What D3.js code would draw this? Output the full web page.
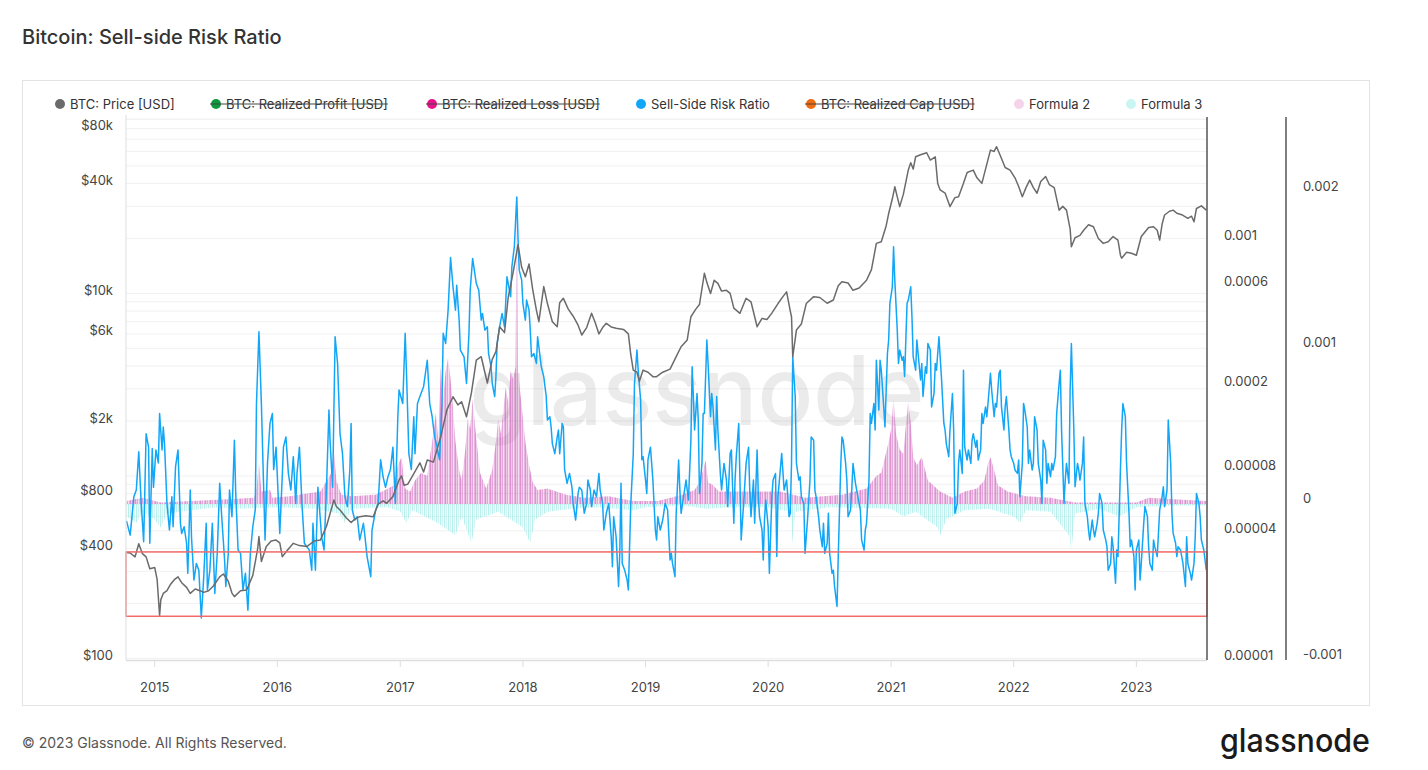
<!DOCTYPE html>
<meta charset="utf-8">
<style>
body{margin:0;background:#fff;}
text{font-family:Inter,'Noto Sans',sans-serif;}
</style>
<svg id="svg" width="1428" height="770"></svg>
<script src="https://d3js.org/d3.v7.min.js"></script>
<script>

// ---- data (time as decimal year) ----
var priceTicks = [100, 400, 800, 2000, 6000, 10000, 40000, 80000]
var ssrTicks = [0.00001, 0.00004, 0.00008, 0.0002, 0.0006, 0.001]
var formulaTicks = [-0.001, 0, 0.001, 0.002]
var years = [2015, 2016, 2017, 2018, 2019, 2020, 2021, 2022, 2023]
var riskBand = [1.58e-5, 3.2e-5]

var legendItems = [
  {name: 'BTC: Price [USD]', color: '#6b6b6b', off: false},
  {name: 'BTC: Realized Profit [USD]', color: '#0d9a3a', off: true},
  {name: 'BTC: Realized Loss [USD]', color: '#e8128a', off: true},
  {name: 'Sell-Side Risk Ratio', color: '#12a6f7', off: false},
  {name: 'BTC: Realized Cap [USD]', color: '#f26a0c', off: true},
  {name: 'Formula 2', color: '#f4d4ec', off: false},
  {name: 'Formula 3', color: '#c9f5f3', off: false}
]

// BTC price, USD
var price = [[2014.77,380],[2014.80,378],[2014.84,360],[2014.87,425],[2014.90,375],[2014.93,360],[2014.96,310],[2015.00,315],[2015.02,270],[2015.04,172],[2015.05,210],[2015.07,227],[2015.10,235],[2015.13,255],[2015.16,270],[2015.19,280],[2015.22,260],[2015.26,245],[2015.29,227],[2015.33,240],[2015.37,235],[2015.40,230],[2015.44,235],[2015.48,250],[2015.53,280],[2015.56,290],[2015.60,265],[2015.63,228],[2015.65,218],[2015.70,235],[2015.75,237],[2015.80,285],[2015.84,400],[2015.85,465],[2015.87,340],[2015.91,410],[2015.95,440],[2015.99,445],[2016.02,430],[2016.04,361],[2016.08,390],[2016.13,427],[2016.18,415],[2016.24,410],[2016.30,440],[2016.35,445],[2016.40,530],[2016.46,738],[2016.48,680],[2016.51,650],[2016.56,590],[2016.60,555],[2016.63,580],[2016.67,598],[2016.72,605],[2016.78,598],[2016.82,700],[2016.86,730],[2016.89,708],[2016.94,770],[2016.99,950],[2017.01,1000],[2017.03,890],[2017.06,900],[2017.10,1000],[2017.16,1180],[2017.19,1050],[2017.22,1222],[2017.27,1190],[2017.33,1640],[2017.38,2300],[2017.43,2715],[2017.47,2450],[2017.50,2550],[2017.54,2110],[2017.58,2850],[2017.62,4310],[2017.66,4500],[2017.71,3230],[2017.75,4350],[2017.78,4800],[2017.81,6570],[2017.85,6100],[2017.88,9500],[2017.92,13000],[2017.96,18500],[2017.99,13900],[2018.02,12350],[2018.05,14500],[2018.08,10500],[2018.11,8100],[2018.13,7000],[2018.17,10900],[2018.20,8800],[2018.24,7000],[2018.28,6570],[2018.30,8900],[2018.33,9400],[2018.37,8200],[2018.41,7500],[2018.45,6700],[2018.48,5920],[2018.52,6500],[2018.56,7780],[2018.59,6900],[2018.62,6000],[2018.65,6500],[2018.68,6860],[2018.72,6550],[2018.76,6450],[2018.82,6350],[2018.86,6000],[2018.88,4600],[2018.90,3800],[2018.93,3700],[2018.95,3300],[2018.98,3800],[2019.02,3700],[2019.06,3500],[2019.09,3500],[2019.14,3700],[2019.20,3850],[2019.25,4500],[2019.29,5100],[2019.34,5560],[2019.37,7450],[2019.41,8200],[2019.44,8700],[2019.48,12900],[2019.50,11500],[2019.53,10000],[2019.56,11800],[2019.59,11350],[2019.62,10300],[2019.66,10400],[2019.69,10000],[2019.72,8300],[2019.77,7780],[2019.82,9400],[2019.86,9000],[2019.91,6570],[2019.95,7300],[2019.99,7200],[2020.03,7800],[2020.08,8800],[2020.12,9600],[2020.15,10200],[2020.18,8000],[2020.19,7450],[2020.20,4500],[2020.23,6300],[2020.27,6800],[2020.31,8800],[2020.37,9600],[2020.42,9500],[2020.48,8830],[2020.53,9200],[2020.57,11000],[2020.60,11600],[2020.65,11400],[2020.69,10400],[2020.74,10700],[2020.80,11800],[2020.84,13500],[2020.88,18800],[2020.92,19200],[2020.96,23500],[2020.98,27400],[2021.01,33000],[2021.03,38400],[2021.07,29900],[2021.10,35000],[2021.14,47400],[2021.16,52000],[2021.18,48000],[2021.20,56100],[2021.24,57500],[2021.29,59000],[2021.32,53800],[2021.36,56000],[2021.38,40000],[2021.40,36900],[2021.44,35500],[2021.48,29900],[2021.52,33500],[2021.55,33900],[2021.59,40100],[2021.62,46000],[2021.67,47400],[2021.70,43000],[2021.74,40100],[2021.77,48000],[2021.81,61000],[2021.84,60000],[2021.86,63700],[2021.89,57000],[2021.93,49000],[2021.97,47400],[2022.01,43000],[2022.04,38500],[2022.07,33900],[2022.10,38000],[2022.13,41800],[2022.16,38000],[2022.19,35400],[2022.22,41000],[2022.26,43700],[2022.29,39500],[2022.33,38000],[2022.37,28600],[2022.40,30000],[2022.43,28600],[2022.46,22500],[2022.47,18000],[2022.50,20200],[2022.54,20800],[2022.57,22200],[2022.61,23800],[2022.65,23200],[2022.69,20000],[2022.73,18800],[2022.77,19200],[2022.81,20500],[2022.85,19600],[2022.87,16200],[2022.88,15600],[2022.92,16800],[2022.96,16600],[2023.00,16200],[2023.04,20500],[2023.06,21300],[2023.10,23000],[2023.14,23200],[2023.17,22200],[2023.19,19600],[2023.21,24000],[2023.23,26900],[2023.27,28200],[2023.30,28600],[2023.33,27500],[2023.37,27000],[2023.42,25800],[2023.45,26500],[2023.47,24700],[2023.49,29200],[2023.53,30200],[2023.57,28600]]

// sell-side risk ratio, in units of 1e-5
var ssrE5 = [[2014.77,4.5],[2014.80,3.85],[2014.83,5.86],[2014.85,6.31],[2014.87,9.6],[2014.89,5.45],[2014.91,3.58],[2014.93,11.7],[2014.95,10.1],[2014.96,3.52],[2014.98,9.96],[2014.99,6.5],[2015.01,9.8],[2015.03,8.5],[2015.04,14.6],[2015.06,9.8],[2015.07,12.6],[2015.08,10.5],[2015.10,5.45],[2015.12,4.07],[2015.14,5.86],[2015.15,4.22],[2015.17,8.15],[2015.19,9.8],[2015.21,4.38],[2015.22,3.92],[2015.24,4.22],[2015.26,3.52],[2015.27,2.53],[2015.29,6.31],[2015.30,3.78],[2015.32,2.35],[2015.34,2.82],[2015.36,2.62],[2015.38,1.55],[2015.40,2.44],[2015.42,4.38],[2015.43,2.11],[2015.45,2.62],[2015.47,4.38],[2015.49,2.03],[2015.51,3.15],[2015.53,6.79],[2015.55,4.38],[2015.57,2.93],[2015.58,2.19],[2015.60,3.15],[2015.61,6.31],[2015.63,4.71],[2015.65,10.9],[2015.66,6.31],[2015.68,3.27],[2015.70,3.15],[2015.72,2.11],[2015.74,2.53],[2015.76,1.69],[2015.78,3.15],[2015.80,4.22],[2015.82,5.07],[2015.83,16.3],[2015.85,35.8],[2015.87,16.3],[2015.90,3.65],[2015.92,8.5],[2015.94,13.1],[2015.96,14.6],[2015.97,7.9],[2015.99,10.1],[2016.02,3.92],[2016.04,7.3],[2016.05,10.1],[2016.07,11.3],[2016.09,7.57],[2016.11,6.31],[2016.13,9.1],[2016.15,5.45],[2016.16,7.57],[2016.18,10.1],[2016.20,5.45],[2016.22,3.52],[2016.24,3.39],[2016.26,3.27],[2016.28,2.62],[2016.29,4.38],[2016.31,2.62],[2016.33,6.5],[2016.34,5.45],[2016.36,3.78],[2016.38,3.27],[2016.40,6.5],[2016.42,15.2],[2016.43,10.5],[2016.45,6.5],[2016.47,33.9],[2016.49,25.3],[2016.51,11.7],[2016.53,9.4],[2016.55,5.86],[2016.57,5.26],[2016.59,7.9],[2016.60,13.1],[2016.61,5.07],[2016.63,4.54],[2016.65,4.71],[2016.67,3.65],[2016.70,4.38],[2016.71,3.92],[2016.73,3.04],[2016.76,2.44],[2016.77,4.07],[2016.80,5.07],[2016.82,5.45],[2016.84,8.8],[2016.86,7.3],[2016.88,6.5],[2016.90,7.3],[2016.92,7.9],[2016.94,10.1],[2016.96,5.45],[2016.98,14.1],[2016.99,18.9],
[2017.02,16.3],[2017.04,35.2],[2017.05,23.5],[2017.07,9.4],[2017.09,7.9],[2017.11,14.1],[2017.12,9.4],[2017.14,16.3],[2017.16,17.6],[2017.19,19.6],[2017.22,26.2],[2017.24,16.3],[2017.26,14.1],[2017.28,11.3],[2017.30,10.1],[2017.32,8.8],[2017.34,16.3],[2017.35,35.2],[2017.37,31.5],[2017.39,45.4],[2017.41,80.9],[2017.43,58.6],[2017.45,45.4],[2017.46,59.7],[2017.48,40.7],[2017.49,29.3],[2017.52,27.2],[2017.54,20.3],[2017.56,35.2],[2017.57,56.5],[2017.59,80.0],[2017.60,73.0],[2017.62,60.8],[2017.64,56.5],[2017.66,40.7],[2017.67,43.8],[2017.69,36.5],[2017.71,37.8],[2017.72,28.2],[2017.74,24.4],[2017.75,20.3],[2017.77,17.6],[2017.78,21.9],[2017.79,31.5],[2017.81,37.8],[2017.83,43.8],[2017.85,37.8],[2017.87,65.4],[2017.88,60.8],[2017.90,52.6],[2017.91,73.0],[2017.93,90.9],[2017.95,157],[2017.96,101],[2017.97,70.4],[2017.99,63.1],[2018.00,48.9],[2018.02,40.7],[2018.03,50.7],[2018.05,45.4],[2018.06,36.5],[2018.07,27.2],[2018.09,28.2],[2018.11,25.3],[2018.12,33.9],[2018.14,27.2],[2018.15,24.4],[2018.17,21.9],[2018.19,17.6],[2018.20,13.6],[2018.22,14.1],[2018.23,12.6],[2018.24,10.5],[2018.26,9.4],[2018.28,11.3],[2018.29,12.2],[2018.30,9.4],[2018.32,13.1],[2018.33,12.6],[2018.34,7.9],[2018.36,6.79],[2018.38,7.57],[2018.40,6.5],[2018.41,5.45],[2018.43,4.54],[2018.45,6.08],[2018.46,6.5],[2018.48,6.31],[2018.50,4.89],[2018.52,5.45],[2018.53,7.04],[2018.55,6.31],[2018.56,5.26],[2018.58,6.31],[2018.60,5.86],[2018.62,7.57],[2018.63,6.31],[2018.65,5.45],[2018.66,4.07],[2018.68,4.89],[2018.70,5.45],[2018.72,3.78],[2018.73,2.72],[2018.74,4.71],[2018.76,3.78],[2018.78,2.19],[2018.79,3.15],[2018.80,6.79],[2018.81,2.82],[2018.83,2.62],[2018.85,2.35],[2018.86,2.11],[2018.88,5.45],[2018.90,9.4],[2018.91,20.3],[2018.93,29.3],[2018.94,23.5],[2018.96,16.9],[2018.97,8.8],[2018.98,9.1],[2019.00,7.04],[2019.01,6.08],[2019.02,8.8],[2019.04,10.1],[2019.06,7.04],[2019.08,4.07],[2019.09,3.65],[2019.10,4.71],[2019.12,4.07],[2019.14,4.54],[2019.16,5.45],[2019.18,5.07],[2019.20,2.93],
[2019.21,3.15],[2019.22,2.82],[2019.24,2.44],[2019.25,4.89],[2019.27,8.77],[2019.28,6.31],[2019.29,4.89],[2019.31,5.86],[2019.33,7.04],[2019.35,5.65],[2019.37,10.9],[2019.38,24.4],[2019.39,17.6],[2019.40,12.2],[2019.42,18.2],[2019.43,13.6],[2019.44,6.08],[2019.46,8.45],[2019.47,14.6],[2019.48,14.6],[2019.50,32.7],[2019.51,25.3],[2019.53,14.1],[2019.54,18.2],[2019.55,15.7],[2019.57,9.8],[2019.58,17.6],[2019.59,12.2],[2019.61,7.57],[2019.62,6.31],[2019.64,8.45],[2019.66,7.04],[2019.67,5.26],[2019.69,9.43],[2019.70,9.8],[2019.72,4.38],[2019.73,7.04],[2019.74,9.1],[2019.76,13.1],[2019.77,7.04],[2019.78,3.65],[2019.80,5.45],[2019.81,6.79],[2019.82,8.45],[2019.84,10.1],[2019.85,6.31],[2019.86,4.71],[2019.88,7.04],[2019.89,4.38],[2019.91,9.8],[2019.92,5.86],[2019.93,4.71],[2019.95,4.07],[2019.96,2.93],[2019.97,4.54],[2019.98,5.65],[2020.00,4.22],[2020.01,2.53],[2020.03,5.86],[2020.04,7.04],[2020.06,7.57],[2020.07,3.04],[2020.08,5.86],[2020.11,9.43],[2020.13,6.31],[2020.15,7.04],[2020.16,5.86],[2020.17,4.71],[2020.18,4.89],[2020.19,8.45],[2020.20,27.2],[2020.22,17.6],[2020.23,8.45],[2020.25,7.04],[2020.26,7.3],[2020.27,5.86],[2020.29,5.45],[2020.30,3.15],[2020.32,4.54],[2020.34,7.04],[2020.35,11.3],[2020.37,10.9],[2020.38,6.31],[2020.39,5.86],[2020.41,4.71],[2020.42,4.07],[2020.44,3.39],[2020.45,4.38],[2020.46,3.15],[2020.48,3.52],[2020.49,4.89],[2020.50,3.15],[2020.52,2.53],[2020.53,2.62],[2020.54,2.19],[2020.56,1.76],[2020.57,3.04],[2020.59,8.15],[2020.60,11.3],[2020.61,10.9],[2020.63,8.45],[2020.64,7.04],[2020.65,4.71],[2020.67,5.07],[2020.68,6.31],[2020.69,8.45],[2020.71,6.79],[2020.72,6.31],[2020.73,5.86],[2020.75,5.07],[2020.76,3.65],[2020.78,3.27],[2020.79,4.07],[2020.80,4.38],[2020.82,7.04],[2020.83,14.6],[2020.84,13.1],[2020.86,16.3],[2020.87,12.2],[2020.88,26.2],[2020.90,15.2],[2020.91,26.2],[2020.92,23.5],[2020.94,15.7],[2020.95,12.6],[2020.97,28.2],[2020.98,32.7],[2020.99,48.9],[2021.01,58.6],[2021.02,90.9],[2021.03,63.1],[2021.05,36.5],[2021.06,25.3],[2021.07,29.3],[2021.09,26.2],[2021.10,27.2],[2021.11,21.9],[2021.13,48.9],[2021.14,50.7],[2021.16,58.6],[2021.17,42.2],[2021.18,27.2],[2021.20,23.5],[2021.21,32.7],[2021.22,28.2],[2021.24,21.1],[2021.25,25.3],[2021.26,17.6],[2021.28,24.4],[2021.29,22.7],[2021.30,31.5],[2021.32,29.3],[2021.33,15.7],[2021.35,18.2],[2021.36,25.3],[2021.37,23.5],[2021.39,33.9],
[2021.41,21.9],[2021.43,13.1],[2021.44,12.2],[2021.45,10.5],[2021.47,9.1],[2021.48,12.2],[2021.50,18.2],[2021.51,12.2],[2021.52,4.89],[2021.54,5.45],[2021.55,8.45],[2021.56,9.8],[2021.58,7.57],[2021.59,23.5],[2021.60,10.1],[2021.62,8.77],[2021.63,9.8],[2021.65,8.45],[2021.66,10.9],[2021.67,11.7],[2021.69,10.1],[2021.70,10.9],[2021.71,8.77],[2021.73,9.8],[2021.74,14.6],[2021.75,13.1],[2021.77,15.7],[2021.78,14.1],[2021.79,16.3],[2021.81,22.7],[2021.82,18.9],[2021.84,14.1],[2021.85,16.3],[2021.86,15.7],[2021.88,22.7],[2021.89,23.5],[2021.90,15.7],[2021.92,12.2],[2021.93,15.7],[2021.94,17.6],[2021.96,12.2],[2021.97,9.8],[2021.98,9.1],[2022.00,8.45],[2022.01,7.86],[2022.03,7.57],[2022.04,8.77],[2022.05,5.86],[2022.07,8.45],[2022.08,16.3],[2022.09,15.2],[2022.11,12.6],[2022.12,8.45],[2022.13,9.8],[2022.15,7.86],[2022.16,8.45],[2022.17,14.1],[2022.19,12.2],[2022.20,8.45],[2022.22,7.04],[2022.23,5.45],[2022.24,10.9],[2022.26,9.8],[2022.27,6.79],[2022.28,8.45],[2022.30,7.3],[2022.31,8.45],[2022.32,7.86],[2022.34,9.1],[2022.35,14.6],[2022.37,20.3],[2022.38,23.5],[2022.39,12.2],[2022.41,5.45],[2022.42,7.04],[2022.43,8.45],[2022.45,6.79],[2022.46,18.9],[2022.47,31.5],[2022.49,12.2],[2022.50,6.54],[2022.52,8.45],[2022.53,7.86],[2022.54,7.04],[2022.56,8.45],[2022.57,11.3],[2022.58,5.45],[2022.60,4.71],[2022.61,4.07],[2022.62,3.65],[2022.64,4.54],[2022.65,4.07],[2022.66,3.78],[2022.68,4.38],[2022.69,4.89],[2022.70,6.08],[2022.72,5.45],[2022.73,4.07],[2022.75,3.65],[2022.76,3.39],[2022.77,2.62],[2022.79,2.82],[2022.80,3.78],[2022.81,3.39],[2022.83,2.27],[2022.84,3.27],[2022.85,3.04],[2022.87,7.86],[2022.88,12.2],[2022.89,16.3],[2022.91,14.1],[2022.92,8.45],[2022.94,4.89],[2022.95,3.39],[2022.96,3.65],[2022.98,3.04],[2022.99,2.11],[2023.00,3.27],[2023.02,3.65],[2023.03,2.35],[2023.04,2.82],[2023.06,4.38],[2023.07,5.26],[2023.09,4.71],[2023.10,3.39],[2023.11,2.82],[2023.13,2.62],[2023.14,3.65],[2023.15,3.39],[2023.17,3.04],[2023.18,3.92],[2023.19,5.07],[2023.21,5.86],[2023.22,6.54],[2023.23,5.26],[2023.25,6.31],[2023.26,13.6],[2023.28,8.45],[2023.29,4.89],[2023.30,3.92],[2023.32,3.52],[2023.33,3.04],[2023.34,3.39],[2023.36,3.27],[2023.37,3.04],[2023.38,2.82],[2023.40,2.19],[2023.41,3.78],[2023.42,2.82],[2023.44,2.53],[2023.45,2.35],[2023.47,2.82],[2023.48,3.78],[2023.49,6.08],[2023.51,5.45],[2023.52,4.71],[2023.53,3.65],[2023.55,3.27],[2023.57,2.62]]

// Formula 2 (positive part)
var formula2 = [[2014.77,0.00002],[2014.90,0.00004],[2015.05,0.00001],[2015.30,0.00002],[2015.60,0.00003],[2015.81,0.00004],[2015.83,0.0001],[2015.85,0.00027],[2015.87,0.00008],[2015.94,0.00009],[2015.96,0.00004],[2016.10,0.00005],[2016.35,0.00008],[2016.44,0.0002],[2016.46,0.00034],[2016.48,0.00015],[2016.52,0.00006],[2016.60,0.00005],[2016.80,0.00006],[2016.95,0.00012],[2016.98,0.00025],[2017.01,0.0003],[2017.04,0.0001],[2017.08,0.00008],[2017.12,0.00015],[2017.17,0.0002],[2017.22,0.00018],[2017.26,0.0004],[2017.29,0.00058],[2017.31,0.00042],[2017.33,0.00088],[2017.35,0.00068],[2017.37,0.00085],[2017.39,0.00094],[2017.41,0.0008],[2017.43,0.00062],[2017.45,0.0004],[2017.48,0.00022],[2017.50,0.00015],[2017.53,0.00035],[2017.55,0.00055],[2017.57,0.00048],[2017.59,0.00067],[2017.61,0.0005],[2017.63,0.00035],[2017.65,0.0002],[2017.70,0.0001],[2017.75,0.00022],[2017.78,0.0004],[2017.80,0.00055],[2017.82,0.00045],[2017.84,0.0006],[2017.86,0.00075],[2017.88,0.00065],[2017.90,0.00085],[2017.92,0.0008],[2017.94,0.00088],[2017.95,0.00198],[2017.96,0.00086],[2017.98,0.0007],[2018.00,0.00055],[2018.02,0.0004],[2018.05,0.00025],[2018.08,0.00014],[2018.12,0.00009],[2018.20,0.0001],[2018.35,0.00006],[2018.50,0.00004],[2018.70,0.00005],[2018.90,0.00002],[2019.10,0.00002],[2019.30,0.00006],[2019.40,0.00009],[2019.44,0.00014],[2019.47,0.00022],[2019.49,0.00028],[2019.51,0.00014],[2019.55,0.00012],[2019.60,0.00008],[2019.85,0.00008],[2020.10,0.00008],[2020.30,0.00004],[2020.60,0.00006],[2020.80,0.0001],[2020.88,0.00018],[2020.92,0.0002],[2020.95,0.0003],[2020.98,0.0004],[2021.00,0.00048],[2021.02,0.00068],[2021.04,0.00045],[2021.07,0.00035],[2021.10,0.00032],[2021.12,0.0005],[2021.14,0.00066],[2021.16,0.00052],[2021.18,0.0003],[2021.21,0.00025],[2021.25,0.0003],[2021.30,0.00015],[2021.40,0.00008],[2021.50,0.00004],[2021.60,0.00008],[2021.70,0.0001],[2021.76,0.00015],[2021.79,0.00026],[2021.81,0.0003],[2021.84,0.00022],[2021.87,0.00012],[2021.95,0.00008],[2022.10,0.00005],[2022.30,0.00004],[2022.50,0.00001],[2022.80,0.00001],[2023.00,0.00001],[2023.10,0.00004],[2023.30,0.00003],[2023.57,0.00002]]

// Formula 3 (negative part)
var formula3 = [[2014.77,-0.00008],[2014.85,-0.00012],[2014.90,-0.00005],[2015.00,-0.0001],[2015.05,-0.00015],[2015.10,-0.00006],[2015.30,-0.00004],[2015.50,-0.00002],[2015.70,-0.00003],[2016.00,-0.00002],[2016.30,-0.00003],[2016.50,-0.00006],[2016.55,-0.00012],[2016.60,-0.00003],[2016.90,-0.00002],[2017.00,-0.00005],[2017.05,-0.00012],[2017.10,-0.00004],[2017.20,-0.00008],[2017.30,-0.00012],[2017.45,-0.0002],[2017.50,-0.00008],[2017.58,-0.00025],[2017.62,-0.0001],[2017.80,-0.00005],[2017.90,-0.0001],[2018.00,-0.00015],[2018.06,-0.00025],[2018.10,-0.0001],[2018.20,-0.00005],[2018.40,-0.00003],[2018.60,-0.00002],[2018.90,-0.00004],[2019.00,-0.00002],[2019.30,-0.00001],[2019.50,-0.00003],[2019.70,-0.00002],[2020.00,-0.00002],[2020.18,-0.00005],[2020.20,-0.00025],[2020.22,-0.00005],[2020.50,-0.00002],[2021.00,-0.00003],[2021.10,-0.00008],[2021.20,-0.00005],[2021.38,-0.00015],[2021.40,-0.0002],[2021.45,-0.0001],[2021.60,-0.00004],[2021.80,-0.00003],[2022.00,-0.00008],[2022.05,-0.00012],[2022.10,-0.00004],[2022.30,-0.00005],[2022.45,-0.0002],[2022.47,-0.0003],[2022.50,-0.00006],[2022.70,-0.00003],[2022.86,-0.00008],[2023.00,-0.00002],[2023.30,-0.00001],[2023.57,-0.00001]]

// ---- helpers ----
function toDate(y) {
  var yr = Math.floor(y), a = Date.UTC(yr, 0, 1), b = Date.UTC(yr + 1, 0, 1)
  return new Date(a + (y - yr) * (b - a))
}

var svg = d3.select('#svg')
var pLeft = 126, pRight = 1207, pTop = 115, pBottom = 660

var x = d3.scaleUtc().domain([toDate(2014.766), toDate(2023.576)]).range([pLeft, pRight])
var yPrice = d3.scaleLog().domain([98, 95000]).range([pBottom, pTop])
var ySsr = d3.scaleLog().domain([9.78e-6, 3.86e-3]).range([pBottom, pTop])
var yF = d3.scaleLinear().domain([-0.001, 0.002494]).range([pBottom, pTop])

// striped fills so the formula columns look like dense daily bars
var defs = svg.append('defs')
function stripes(id, color, ops) {
  var p = defs.append('pattern').attr('id', id).attr('patternUnits', 'userSpaceOnUse')
    .attr('width', ops.length).attr('height', 10)
  ops.forEach(function(o, i) {
    p.append('rect').attr('x', i).attr('y', 0).attr('width', 1).attr('height', 10)
      .attr('fill', color).attr('fill-opacity', o)
  })
}
stripes('pinkStripes', '#c94fb4', [0.62, 0.3, 0.5, 0.18, 0.42])
stripes('cyanStripes', '#7fe3de', [0.55, 0.15, 0.35, 0.08])

// title + frame
svg.append('text').attr('x', 22).attr('y', 44).attr('font-size', 20).attr('font-weight', 500)
  .attr('fill', '#333').text('Bitcoin: Sell-side Risk Ratio')
svg.append('rect').attr('x', 22.5).attr('y', 80.5).attr('width', 1347).attr('height', 625)
  .attr('fill', 'none').attr('stroke', '#e3e3e3')

// legend
var lx = [60, 216, 432, 641, 811, 1019, 1131]
legendItems.forEach(function(d, i) {
  var g = svg.append('g')
  g.append('circle').attr('cx', lx[i]).attr('cy', 104).attr('r', 5).attr('fill', d.color)
  var t = g.append('text').attr('x', lx[i] + 10).attr('y', 108.5).attr('font-size', 13)
    .attr('fill', '#333').text(d.name)
  if (d.off) {
    var w = t.node().getComputedTextLength()
    g.append('line').attr('x1', lx[i] - 6).attr('x2', lx[i] + 10 + w).attr('y1', 104).attr('y2', 104)
      .attr('stroke', '#444').attr('stroke-width', 1)
  }
})

// gridlines (log minor steps of the price axis)
var gv = []
d3.range(2, 5).forEach(function(e) { d3.range(1, 10).forEach(function(m) { gv.push(m * Math.pow(10, e)) }) })
gv.push(90000)
svg.append('g').selectAll('line').data(gv).enter().append('line')
  .attr('x1', pLeft).attr('x2', pRight)
  .attr('y1', function(d) { return yPrice(d) }).attr('y2', function(d) { return yPrice(d) })
  .attr('stroke', '#f1f1f1').attr('stroke-width', 1)

// watermark
svg.append('text').attr('x', 697).attr('y', 425).attr('text-anchor', 'middle')
  .attr('font-size', 96).attr('font-weight', 500).attr('fill', '#000').attr('opacity', 0.075)
  .attr('textLength', 455).attr('lengthAdjust', 'spacingAndGlyphs').text('glassnode')

// formula areas
var area = d3.area().x(function(d) { return x(toDate(d[0])) }).y0(yF(0)).y1(function(d) { return yF(d[1]) })
svg.append('path').datum(formula3).attr('d', area).attr('fill', 'url(#cyanStripes)')
svg.append('path').datum(formula2).attr('d', area).attr('fill', 'url(#pinkStripes)')

// SSR line
svg.append('path').datum(ssrE5)
  .attr('d', d3.line().x(function(d) { return x(toDate(d[0])) }).y(function(d) { return ySsr(d[1] * 1e-5) }))
  .attr('fill', 'none').attr('stroke', '#12a6f7').attr('stroke-width', 1.5).attr('stroke-linejoin', 'round')

// price line
svg.append('path').datum(price)
  .attr('d', d3.line().x(function(d) { return x(toDate(d[0])) }).y(function(d) { return yPrice(d[1]) }))
  .attr('fill', 'none').attr('stroke', '#6b6b6b').attr('stroke-width', 1.5).attr('stroke-linejoin', 'round')

// low-risk band
svg.append('rect').attr('x', pLeft).attr('width', pRight - pLeft)
  .attr('y', ySsr(riskBand[1])).attr('height', ySsr(riskBand[0]) - ySsr(riskBand[1]))
  .attr('fill', 'none').attr('stroke', '#f26a6a').attr('stroke-width', 1.5)

// axis lines
svg.append('line').attr('x1', pLeft).attr('x2', pLeft).attr('y1', pTop).attr('y2', pBottom).attr('stroke', '#ddd')
svg.append('line').attr('x1', pLeft).attr('x2', pRight).attr('y1', pBottom + 0.5).attr('y2', pBottom + 0.5).attr('stroke', '#ddd').attr('stroke-width', 1.5)
svg.append('line').attr('x1', pRight).attr('x2', pRight).attr('y1', 117).attr('y2', pBottom).attr('stroke', '#555').attr('stroke-width', 1.5)
svg.append('line').attr('x1', 1286).attr('x2', 1286).attr('y1', 117).attr('y2', pBottom).attr('stroke', '#555').attr('stroke-width', 1.5)

// axis labels
var fmtPrice = function(v) { return v >= 1000 ? '$' + (v / 1000) + 'k' : '$' + v }
svg.append('g').selectAll('text').data(priceTicks).enter().append('text')
  .attr('x', 113).attr('y', function(d) { return yPrice(d) - 3 }).attr('dy', '0.35em')
  .attr('text-anchor', 'end').attr('font-size', 13).attr('fill', '#444').text(fmtPrice)

svg.append('g').selectAll('text').data(ssrTicks).enter().append('text')
  .attr('x', 1224).attr('y', function(d) { return ySsr(d) - 3 }).attr('dy', '0.35em')
  .attr('font-size', 13).attr('fill', '#444')
  .text(function(d) { return d.toFixed(Math.max(0, -Math.floor(Math.log10(d)))).replace(/0+$/, '') })

svg.append('g').selectAll('text').data(formulaTicks).enter().append('text')
  .attr('x', 1303).attr('y', function(d) { return yF(d) - 6 }).attr('dy', '0.35em')
  .attr('font-size', 13).attr('fill', '#444').text(function(d) { return d === 0 ? '0' : String(d) })

var xt = svg.append('g')
xt.selectAll('line').data(years).enter().append('line')
  .attr('x1', function(d) { return x(toDate(d)) }).attr('x2', function(d) { return x(toDate(d)) })
  .attr('y1', pBottom + 1).attr('y2', pBottom + 7).attr('stroke', '#ddd')
xt.selectAll('text').data(years).enter().append('text')
  .attr('x', function(d) { return x(toDate(d)) }).attr('y', 692).attr('text-anchor', 'middle')
  .attr('font-size', 13).attr('fill', '#444').text(function(d) { return d })

// footer
svg.append('text').attr('x', 22).attr('y', 748).attr('font-size', 14).attr('fill', '#555')
  .text('\u00a9 2023 Glassnode. All Rights Reserved.')
svg.append('text').attr('x', 1370).attr('y', 752).attr('text-anchor', 'end').attr('font-size', 32)
  .attr('font-weight', 500).attr('fill', '#1a1a1a').attr('textLength', 150).attr('lengthAdjust', 'spacingAndGlyphs')
  .text('glassnode')
</script>
